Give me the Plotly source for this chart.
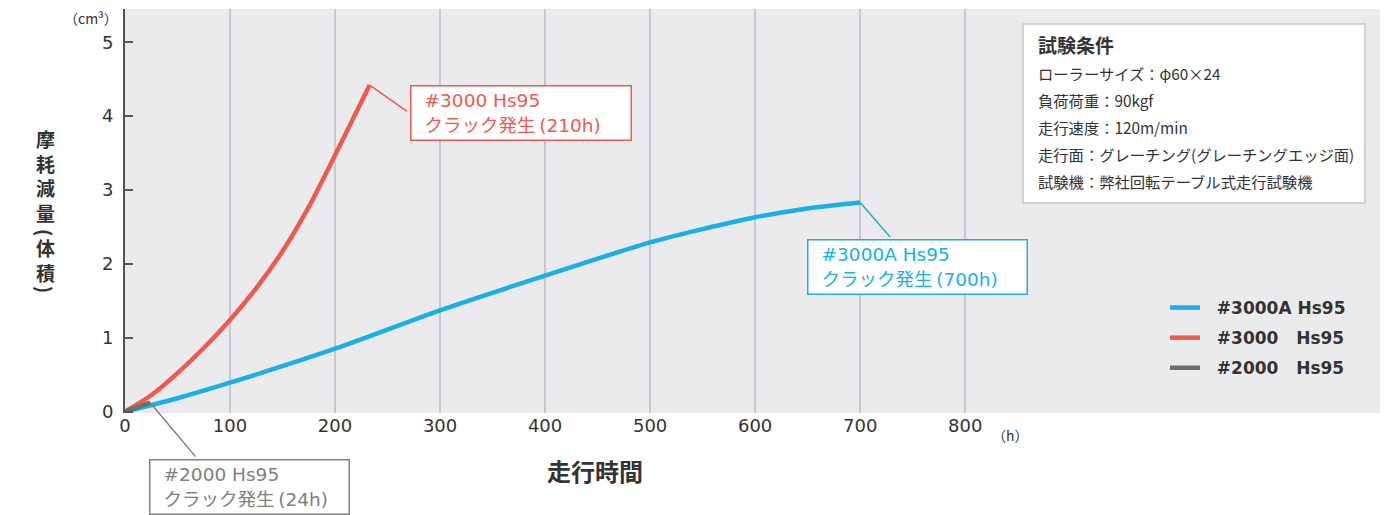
import plotly.graph_objects as go

FONT = "Noto Sans CJK JP"
LATIN = "DejaVu Sans, Noto Sans CJK JP"
TEXT = "#333333"
BLUE = "#1AAFE6"
RED = "#EE5A4F"
GRAY = "#6E6E6E"
CALLOUT_GRAY = "#808080"

# --- data -----------------------------------------------------------------
hours_3000a = [0, 50, 100, 200, 300, 400, 500, 550, 600, 650, 700]
wear_3000a = [0, 0.18, 0.39, 0.85, 1.37, 1.84, 2.29, 2.47, 2.63, 2.75, 2.83]

hours_3000 = [0, 25, 50, 75, 100, 125, 150, 175, 200, 233]
wear_3000 = [0, 0.22, 0.52, 0.86, 1.24, 1.67, 2.17, 2.77, 3.47, 4.42]

hours_2000 = [0, 24]
wear_2000 = [0, 0.12]

x_ticks = [0, 100, 200, 300, 400, 500, 600, 700, 800]
y_ticks = [0, 1, 2, 3, 4, 5]

conditions_title = "試験条件"
conditions = [
    "ローラーサイズ：φ60×24",
    "負荷荷重：90kgf",
    "走行速度：120m/min",
    "走行面：グレーチング(グレーチングエッジ面)",
    "試験機：弊社回転テーブル式走行試験機",
]

# plot area in pixels (figure is 1394 x 515)
W, H = 1394, 515
L, R, T, B = 125, 14, 9, 102
PW, PH = W - L - R, H - T - B


def px(x):
    return (x - L) / PW


def py(y):
    return (H - B - y) / PH


def note(x, y, text, size, color=TEXT, xanchor="center", family=FONT, angle=0):
    fig.add_annotation(
        x=px(x), y=py(y), xref="paper", yref="paper", showarrow=False,
        xanchor=xanchor, yanchor="middle", text=text, textangle=angle,
        font=dict(family=family, size=size, color=color),
    )


fig = go.Figure()
PAD = "\u00a0\u00a0"
GAP = "\u00a0\u00a0\u00a0"
series = [
    (PAD + "#3000A Hs95", hours_3000a, wear_3000a, BLUE),
    (PAD + "#3000" + GAP + "Hs95", hours_3000, wear_3000, RED),
    (PAD + "#2000" + GAP + "Hs95", hours_2000, wear_2000, GRAY),
]
for i, (name, xs, ys, color) in enumerate(series):
    fig.add_trace(
        go.Scatter(
            x=xs,
            y=ys,
            mode="lines",
            name=name,
            legendgroup=f"g{i}",
            line=dict(color=color, width=4.5, shape="spline", smoothing=0.8),
        )
    )

# connectors from the last point of each series to its callout box
connectors = [
    (hours_3000[-1], wear_3000[-1], 270, 4.05, RED),
    (hours_3000a[-1], wear_3000a[-1], 730, 2.34, BLUE),
    (hours_2000[-1], wear_2000[-1], 68.6, -0.635, CALLOUT_GRAY),
]
for x, y, tx, ty, color in connectors:
    fig.add_annotation(
        x=x, y=y, ax=tx, ay=ty, axref="x", ayref="y",
        text=" ", font=dict(size=1), showarrow=True, arrowhead=0,
        arrowwidth=1.5, arrowcolor=color, standoff=0, startstandoff=0,
    )

# callout boxes: top-left corner in pixels
INDENT = "\u2002\u200a"
callouts = [
    (410, 85, "#3000 Hs95", "クラック発生\u2009(210h)", RED, 215),
    (807, 239, "#3000A Hs95", "クラック発生\u2009(700h)", BLUE, 214),
    (149, 459, "#2000 Hs95", "クラック発生\u2009(24h)", CALLOUT_GRAY, 194),
]
for bx, by, l1, l2, color, width in callouts:
    fig.add_annotation(
        x=px(bx), y=py(by), xref="paper", yref="paper",
        xanchor="left", yanchor="top",
        text=f"{INDENT}{l1}<br>{INDENT}{l2}", showarrow=False, align="left",
        width=width, height=49, borderpad=2, borderwidth=1.5,
        bordercolor=color, bgcolor="white",
        font=dict(family=LATIN, size=18.5, color=color),
    )

# test-condition box
fig.add_shape(
    type="rect", xref="paper", yref="paper",
    x0=px(1023), x1=px(1365), y0=py(203), y1=py(24),
    line=dict(color="#C8C8C8", width=1.5), fillcolor="white",
)
note(1036, 45, f"<b>{conditions_title}</b>", 19, xanchor="left")
for i, line in enumerate(conditions):
    note(1036, 73 + i * 27, line, 15.3, xanchor="left")

# vertical y-axis title
note(45, 175.5, "<br>".join(f"<b>{c}</b>" for c in "摩耗減量"), 19)
note(46, 232, "<b>(</b>", 19, angle=90)
note(45, 260, "<br>".join(f"<b>{c}</b>" for c in "体積"), 19)
note(46, 289, "<b>)</b>", 19, angle=90)

note(595, 471, "<b>走行時間</b>", 24)
note(91, 18, "（cm³）", 14)
note(1011, 435, "（h）", 14)

fig.update_layout(
    width=W,
    height=H,
    margin=dict(l=L, r=R, t=T, b=B),
    paper_bgcolor="white",
    plot_bgcolor="#EBEBED",
    font=dict(family=FONT, color=TEXT),
    showlegend=True,
    legend=dict(
        x=px(1165), y=py(290), xanchor="left", yanchor="top",
        bgcolor="rgba(0,0,0,0)", tracegroupgap=5,
        font=dict(family=LATIN, size=17, color=TEXT, weight="bold"),
    ),
    xaxis=dict(
        range=[0, 1195], tickvals=x_ticks, showgrid=True,
        gridcolor="#C9C9CD", gridwidth=2, zeroline=False, showline=False,
        ticks="", tickfont=dict(family="DejaVu Sans", size=18, color=TEXT),
    ),
    yaxis=dict(
        range=[-0.02, 5.45], tickvals=y_ticks, showgrid=False, zeroline=False,
        showline=True, linecolor="#555555", linewidth=2,
        ticks="inside", ticklen=8, tickwidth=1.5, tickcolor="#555555",
        ticklabelstandoff=6,
        tickfont=dict(family="DejaVu Sans", size=18, color=TEXT),
    ),
)

fig.write_html(
    "out.html",
    config={"displayModeBar": False},
    post_script="document.body.style.margin='0';",
)
